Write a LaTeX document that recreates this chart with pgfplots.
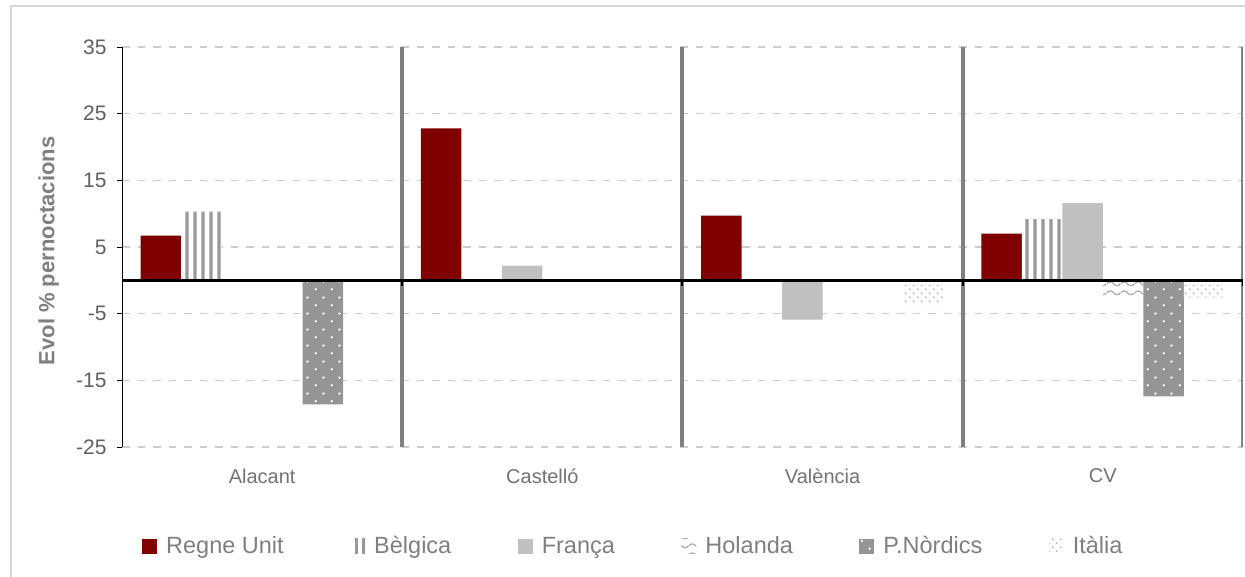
\documentclass[border=0pt]{standalone}
\usepackage{fontspec}
\setmainfont{Liberation Sans}
\usepackage{pgfplots}
\pgfplotsset{compat=1.18}
\usetikzlibrary{patterns,patterns.meta}

\definecolor{ru}{HTML}{800000}
\definecolor{fr}{HTML}{C0C0C0}
\definecolor{nordgray}{HTML}{959595}
\definecolor{stripe}{HTML}{999999}
\definecolor{wavec}{HTML}{ABABAB}
\definecolor{itdot}{HTML}{A8A8A8}
\definecolor{sepgray}{HTML}{808080}
\definecolor{gridgray}{HTML}{CCCCCC}
\definecolor{bordergray}{HTML}{D9D9D9}
\definecolor{tickgray}{HTML}{606060}
\definecolor{catgray}{HTML}{737373}
\definecolor{leggray}{HTML}{7F7F7F}

\pgfdeclarepattern{
  name=belg, type=uncolored,
  bottom left={\pgfpoint{0pt}{0pt}},
  top right={\pgfpoint{7.7pt}{300pt}},
  tile size={\pgfpoint{7.7pt}{300pt}},
  code={\pgfpathrectangle{\pgfpoint{0.4pt}{0pt}}{\pgfpoint{3.3pt}{300pt}}\pgfusepath{fill}}
}
\pgfdeclarepattern{
  name=nord, type=uncolored,
  bottom left={\pgfpoint{0pt}{0pt}},
  top right={\pgfpoint{15.6pt}{15.6pt}},
  tile size={\pgfpoint{15.6pt}{15.6pt}},
  code={\pgfpathcircle{\pgfpoint{3.9pt}{3.9pt}}{1.3pt}\pgfpathcircle{\pgfpoint{11.7pt}{11.7pt}}{1.3pt}\pgfusepath{fill}}
}
\pgfdeclarepattern{
  name=itdots, type=uncolored,
  bottom left={\pgfpoint{0pt}{0pt}},
  top right={\pgfpoint{7.7pt}{7.7pt}},
  tile size={\pgfpoint{7.7pt}{7.7pt}},
  code={\pgfpathcircle{\pgfpoint{1.9pt}{1.9pt}}{0.9pt}\pgfpathcircle{\pgfpoint{5.8pt}{5.8pt}}{0.9pt}\pgfusepath{fill}}
}
\pgfdeclarepattern{
  name=waves, type=uncolored,
  bottom left={\pgfpoint{0pt}{0pt}},
  top right={\pgfpoint{13.5pt}{9pt}},
  tile size={\pgfpoint{13.5pt}{9pt}},
  code={\pgfsetlinewidth{1.3pt}%
    \pgfpathmoveto{\pgfpoint{0pt}{4.5pt}}%
    \pgfpathcurveto{\pgfpoint{1.7pt}{7.2pt}}{\pgfpoint{5.05pt}{7.2pt}}{\pgfpoint{6.75pt}{4.5pt}}%
    \pgfpathcurveto{\pgfpoint{8.45pt}{1.8pt}}{\pgfpoint{11.8pt}{1.8pt}}{\pgfpoint{13.5pt}{4.5pt}}%
    \pgfusepath{stroke}}
}

\begin{document}
\begin{tikzpicture}
\useasboundingbox (0,0) rectangle (1245pt,576pt);
\draw[color=bordergray, line width=1.2pt] (11pt,-10pt) -- (11pt,570pt) -- (1260pt,570pt);
\begin{axis}[
  at={(122pt,129pt)}, anchor=south west,
  scale only axis, width=1121pt, height=400pt,
  xmin=-0.5, xmax=3.5, ymin=-25, ymax=35,
  enlargelimits=false,
  ytick={-25,-15,-5,5,15,25,35},
  xtick={0,1,2,3}, xticklabels={Alacant,Castelló,València,CV},
  ybar=0pt, bar width=40.5pt,
  axis line style={draw=none},
  ytick pos=left, tick align=outside,
  major tick length=5pt,
  ytick style={black, line width=0.8pt},
  xtick style={draw=none},
  ymajorgrids,
  grid style={color=gridgray, line width=1.3pt, dash pattern=on 7.5pt off 8pt},
  /pgf/number format/assume math mode=true,
  yticklabel style={font=\fontsize{21}{24}\selectfont, color=tickgray, xshift=-7pt},
  xticklabel style={font=\fontsize{20}{24}\selectfont, color=catgray, yshift=-13pt},
  ylabel={Evol \% pernoctacions},
  ylabel style={font=\fontsize{22}{26}\selectfont\bfseries, color=leggray,
    at={(axis description cs:-0.0655,0.49)}, anchor=center},
  legend columns=6,
  legend style={draw=none, fill=none, inner sep=0pt,
    at={(axis description cs:0.0178,-0.2475)}, anchor=west,
    font=\fontsize{23.5}{27}\selectfont, text=leggray,
    /tikz/every even column/.append style={column sep=64.5pt},
    /tikz/every odd column/.append style={column sep=7pt}},
  legend image code/.code={\fill[#1] (0pt,-7.5pt) rectangle (15pt,7.5pt);},
]
\addplot[draw=none, fill=ru] coordinates {(0,6.7) (1,22.8) (2,9.7) (3,7.0)};
\addplot[draw=none, fill=white, postaction={pattern=belg, pattern color=stripe}] coordinates {(0,10.3) (3,9.2)};
\addplot[draw=none, fill=fr] coordinates {(1,2.2) (2,-5.9) (3,11.6)};
\addplot[draw=none, fill=white, postaction={pattern=waves, pattern color=wavec}] coordinates {(3,-2.7)};
\addplot[draw=none, fill=nordgray, postaction={pattern=nord, pattern color=white}] coordinates {(0,-18.6) (3,-17.4)};
\addplot[draw=none, fill=white, postaction={pattern=itdots, pattern color=itdot}] coordinates {(2,-3.6) (3,-2.6)};
\legend{Regne Unit, Bèlgica, França, Holanda, P.Nòrdics, Itàlia}
\draw[color=sepgray, line width=4pt] (axis cs:0.5,-25) -- (axis cs:0.5,35);
\draw[color=sepgray, line width=4pt] (axis cs:1.5,-25) -- (axis cs:1.5,35);
\draw[color=sepgray, line width=4pt] (axis cs:2.5,-25) -- (axis cs:2.5,35);
\draw[color=sepgray, line width=4pt] (axis cs:3.5,-25) -- (axis cs:3.5,35);
\draw[black, line width=1pt] (axis cs:-0.5,-25) -- (axis cs:-0.5,35);
\draw[black, line width=2.5pt] (axis cs:-0.5,0) -- (axis cs:3.5,0);
\draw[black, line width=2pt] (axis cs:-0.5,0) -- ++(0pt,-6pt);
\draw[black, line width=2pt] (axis cs:0.5,0) -- ++(0pt,-6pt);
\draw[black, line width=2pt] (axis cs:1.5,0) -- ++(0pt,-6pt);
\draw[black, line width=2pt] (axis cs:2.5,0) -- ++(0pt,-6pt);
\draw[black, line width=2pt] (axis cs:3.5,0) -- ++(0pt,-6pt);
\end{axis}
\end{tikzpicture}
\end{document}
